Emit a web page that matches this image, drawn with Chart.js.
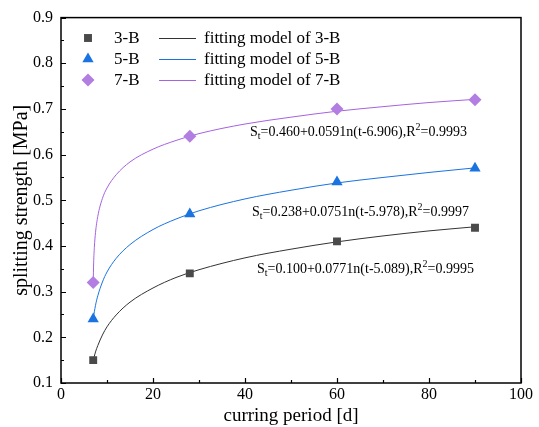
<!DOCTYPE html>
<html>
<head>
<meta charset="utf-8">
<script src="https://cdn.jsdelivr.net/npm/chart.js@4.4.1/dist/chart.umd.min.js"></script>
<style>
  html, body { margin: 0; padding: 0; background: #fff; }
  #wrap { width: 539px; height: 427px; }
</style>
</head>
<body>
<div id="wrap"><canvas id="chart" width="539" height="427"></canvas></div>
<script>
// measured points
const days = [7, 28, 60, 90];
const b3 = [0.15, 0.34, 0.41, 0.44];
const b5 = [0.24, 0.47, 0.54, 0.57];
const b7 = [0.32, 0.64, 0.70, 0.72];

// fitted curves
const tFit = [7, 7.1, 7.25, 7.5, 8, 9, 10, 12, 15, 20, 25, 30, 40, 50, 60, 70, 80, 90];
const fit3 = [0.150, 0.154, 0.159, 0.168, 0.182, 0.205, 0.223, 0.249, 0.277, 0.308, 0.331, 0.348, 0.374, 0.393, 0.409, 0.422, 0.433, 0.442];
const fit5 = [0.240, 0.247, 0.256, 0.270, 0.291, 0.321, 0.343, 0.373, 0.403, 0.436, 0.459, 0.477, 0.503, 0.522, 0.538, 0.550, 0.561, 0.571];
const fit7 = [0.320, 0.363, 0.397, 0.429, 0.465, 0.504, 0.527, 0.556, 0.584, 0.612, 0.631, 0.646, 0.667, 0.682, 0.695, 0.705, 0.714, 0.721];

const seriesNames = ['3-B', '5-B', '7-B'];
const markerColors = ['#4a4a4a', '#1a73e0', '#b27ee2'];
const lineColors = ['#333333', '#1a73e0', '#a463e0'];
const markerStyles = ['rect', 'triangle', 'rectRot'];
const markerSizes = [5.6, 6.5, 6.5];

const fitText = [
  { sub: '0.460+0.0591n(t-6.906),R', tail: '=0.9993', x: 250, y: 136 },
  { sub: '0.238+0.0751n(t-5.978),R', tail: '=0.9997', x: 252, y: 216 },
  { sub: '0.100+0.0771n(t-5.089),R', tail: '=0.9995', x: 257, y: 273 }
];

const serif = '"Liberation Serif", "Times New Roman", serif';

function pts(xs, ys) {
  return xs.map((x, i) => ({ x: x, y: ys[i] }));
}

const datasets = [];
[fit3, fit5, fit7].forEach((f, i) => {
  datasets.push({
    label: 'fitting model of ' + seriesNames[i],
    data: pts(tFit, f),
    showLine: true,
    borderColor: lineColors[i],
    borderWidth: 1,
    pointRadius: 0,
    cubicInterpolationMode: 'monotone',
    order: 2
  });
});
[b3, b5, b7].forEach((v, i) => {
  datasets.push({
    label: seriesNames[i],
    data: pts(days, v),
    showLine: false,
    pointStyle: markerStyles[i],
    pointRadius: markerSizes[i],
    pointBackgroundColor: markerColors[i],
    pointBorderColor: markerColors[i],
    pointBorderWidth: 0,
    order: 1
  });
});

// frame, inward ticks, legend and fit equations
const decor = {
  id: 'decor',
  afterDraw(chart) {
    const ctx = chart.ctx;
    const a = chart.chartArea;
    const xs = chart.scales.x, ys = chart.scales.y;
    ctx.save();
    ctx.strokeStyle = '#000';
    ctx.lineWidth = 1.5;
    ctx.strokeRect(a.left, a.top, a.right - a.left, a.bottom - a.top);
    ctx.lineWidth = 1.2;
    ctx.beginPath();
    for (let v = 0; v <= 100; v += 10) {
      const px = Math.round(xs.getPixelForValue(v)) + 0.5;
      const len = v % 20 === 0 ? 5 : 3;
      ctx.moveTo(px, a.bottom);
      ctx.lineTo(px, a.bottom - len);
    }
    for (let k = 0; k <= 16; k++) {
      const v = 0.1 + k * 0.05;
      const py = Math.round(ys.getPixelForValue(v)) + 0.5;
      const len = k % 2 === 0 ? 5 : 3;
      ctx.moveTo(a.left, py);
      ctx.lineTo(a.left + len, py);
    }
    ctx.stroke();

    // legend
    ctx.font = '17px ' + serif;
    ctx.textBaseline = 'middle';
    const rows = [38, 59, 80];
    rows.forEach((ry, i) => {
      ctx.fillStyle = markerColors[i];
      ctx.strokeStyle = markerColors[i];
      Chart.helpers.drawPoint(ctx, { pointStyle: markerStyles[i], radius: markerSizes[i], rotation: 0, borderWidth: 0 }, 88, ry);
      ctx.fillStyle = '#000';
      ctx.fillText(seriesNames[i], 114, ry + 1);
      ctx.strokeStyle = lineColors[i];
      ctx.lineWidth = 1;
      ctx.beginPath();
      ctx.moveTo(159, ry + 0.5);
      ctx.lineTo(196, ry + 0.5);
      ctx.stroke();
      ctx.fillText('fitting model of ' + seriesNames[i], 204, ry + 1);
    });

    // fit equations
    ctx.fillStyle = '#000';
    ctx.textBaseline = 'alphabetic';
    fitText.forEach(t => {
      let x = t.x;
      ctx.font = '14px ' + serif;
      ctx.fillText('S', x, t.y);
      x += ctx.measureText('S').width;
      ctx.font = '10px ' + serif;
      ctx.fillText('t', x, t.y + 3);
      x += ctx.measureText('t').width;
      ctx.font = '14px ' + serif;
      ctx.fillText('=' + t.sub, x, t.y);
      x += ctx.measureText('=' + t.sub).width;
      ctx.font = '10px ' + serif;
      ctx.fillText('2', x, t.y - 6);
      x += ctx.measureText('2').width;
      ctx.font = '14px ' + serif;
      ctx.fillText(t.tail, x, t.y);
    });
    ctx.restore();
  }
};

new Chart(document.getElementById('chart'), {
  type: 'scatter',
  data: { datasets: datasets },
  options: {
    responsive: false,
    animation: false,
    layout: { padding: { top: 14, right: 18, left: 0, bottom: 0 } },
    plugins: { legend: { display: false }, tooltip: { enabled: false } },
    scales: {
      x: {
        type: 'linear', min: 0, max: 100,
        afterFit(s) { s.height = 44; },
        ticks: { stepSize: 20, color: '#000', padding: 2, font: { family: serif, size: 16 } },
        grid: { drawOnChartArea: false, drawTicks: false },
        border: { display: false },
        title: { display: true, text: 'curring period [d]', color: '#000', padding: { top: 0, bottom: 0 }, font: { family: serif, size: 19 } }
      },
      y: {
        type: 'linear', min: 0.1, max: 0.9,
        afterFit(s) { s.width = 61; },
        ticks: { stepSize: 0.1, color: '#000', padding: 8, font: { family: serif, size: 16 },
          callback: v => v.toFixed(1) },
        grid: { drawOnChartArea: false, drawTicks: false },
        border: { display: false },
        title: { display: true, text: 'splitting strength [MPa]', color: '#000', padding: { top: 10, bottom: 0 }, font: { family: serif, size: 20 } }
      }
    }
  },
  plugins: [decor]
});
</script>
</body>
</html>
